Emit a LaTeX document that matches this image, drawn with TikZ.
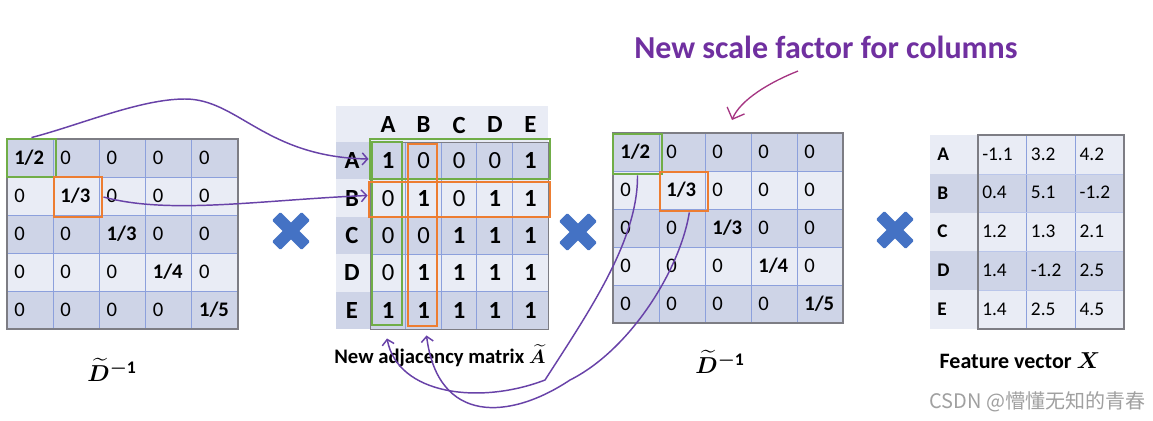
\documentclass[tikz,border=0pt]{standalone}
\usepackage{fontspec}
\setmainfont{Carlito}
\newfontfamily\wmfont{Noto Sans CJK SC}
\usepackage{amsmath,amssymb,bm}
\usetikzlibrary{arrows.meta,fit}
\definecolor{rowdark}{RGB}{206,212,231}
\definecolor{rowlight}{RGB}{233,236,245}
\definecolor{gridblue}{RGB}{140,160,220}
\definecolor{framegray}{RGB}{125,125,132}
\definecolor{hlgreen}{RGB}{112,173,71}
\definecolor{hlorange}{RGB}{237,125,49}
\definecolor{linkpurple}{RGB}{104,66,168}
\definecolor{titlepurple}{RGB}{112,48,160}
\definecolor{pinkline}{RGB}{165,53,130}
\definecolor{crossblue}{RGB}{68,114,196}
\definecolor{wmgray}{RGB}{160,160,160}

\begin{document}
\begin{tikzpicture}[x=0.75pt,y=-0.75pt,
  cellL/.style={anchor=west,inner sep=0pt,font=\fontsize{15.5}{17}\selectfont},
  cellM/.style={inner sep=0pt,font=\fontsize{18.5}{20}\selectfont},
  cellX/.style={anchor=west,inner sep=0pt,font=\fontsize{14.5}{16}\selectfont},
  hlbox/.style={draw=#1,line width=2.2pt,inner sep=0pt},
  link/.style={draw=linkpurple,line width=1.1pt,-{Straight Barb[length=4pt,width=9pt]}},
  caption/.style={font=\bfseries\fontsize{15.5}{18}\selectfont}]
  \fill[white] (0,0) rectangle (1153,421);
  \useasboundingbox (0,0) rectangle (1153,421);

  % left D^-1
  \foreach \r/\sh in {1/rowdark,2/rowlight,3/rowdark,4/rowlight,5/rowdark}
    \fill[\sh] (7,{139+(\r-1)*38}) rectangle (238,{139+\r*38});
  \foreach \i in {1,...,4} {
    \draw[gridblue,line width=0.5pt] ({7+\i*46.2},139) -- ({7+\i*46.2},329);
    \draw[gridblue,line width=0.5pt] (7,{139+\i*38}) -- (238,{139+\i*38});
  }
  \draw[framegray,line width=0.8pt] (7,139) rectangle (238,329);
  \foreach \r/\den in {1/2,2/3,3/3,4/4,5/5}
    \foreach \c in {1,...,5}
      \node[cellL] (dl-\r-\c) at ({14+(\c-1)*46.2},{158+(\r-1)*38})
        {\ifnum\r=\c \textbf{1/\den}\else 0\fi};
  \node[hlbox=hlgreen,fit={(7,139)(56,177)}] (dl-g) {};
  \node[hlbox=hlorange,fit={(54,177)(102,217)}] (dl-o) {};
  \node[font=\fontsize{19}{22}\selectfont] (dl-cap) at (112,370)
    {$\widetilde{\bm{D}}^{\bm{-}\mathbf{1}}$};

  % adjacency matrix
  \fill[rowlight] (336,106) rectangle (548,142);
  \foreach \r/\sh in {1/rowdark,2/rowlight,3/rowdark,4/rowlight,5/rowdark}
    \fill[\sh] (336,{142+(\r-1)*37.4}) rectangle (548,{142+\r*37.4});
  \foreach \i in {1,...,4} {
    \draw[gridblue,line width=0.5pt] ({370+\i*35.6},142) -- ({370+\i*35.6},329);
    \draw[gridblue,line width=0.5pt] (370,{142+\i*37.4}) -- (548,{142+\i*37.4});
  }
  \draw[framegray,line width=0.6pt] (370,142) rectangle (548,329);
  \foreach \c/\lab in {1/A,2/B,3/C,4/D,5/E} {
    \node[cellM,font=\bfseries\fontsize{18.5}{20}\selectfont] (ma-h\c) at ({388+(\c-1)*35.6},125) {\lab};
    \node[cellM,font=\bfseries\fontsize{18.5}{20}\selectfont] (ma-r\c) at (352,{160.7+(\c-1)*37.4}) {\lab};
  }
  \foreach \r/\row in {1/{1,0,0,0,1},2/{0,1,0,1,1},3/{0,0,1,1,1},4/{0,1,1,1,1},5/{1,1,1,1,1}}
    \foreach \v [count=\c] in \row
      \node[cellM] (ma-\r-\c) at ({388+(\c-1)*35.6},{160.7+(\r-1)*37.4})
        {\ifnum\v=1 \textbf{1}\else 0\fi};
  \node[hlbox=hlgreen,fit={(370,139)(550,179)}] (ma-grow) {};
  \node[hlbox=hlgreen,fit={(372,142)(402,325)}] (ma-gcol) {};
  \node[hlbox=hlorange,fit={(369,182)(550,217)}] (ma-orow) {};
  \node[hlbox=hlorange,fit={(408,144)(437,326)}] (ma-ocol) {};
  \node[caption] (ma-cap) at (440,356) {New adjacency matrix $\widetilde{\bm{A}}$};

  % right D^-1
  \foreach \r/\sh in {1/rowdark,2/rowlight,3/rowdark,4/rowlight,5/rowdark}
    \fill[\sh] (613,{133+(\r-1)*38}) rectangle (843,{133+\r*38});
  \foreach \i in {1,...,4} {
    \draw[gridblue,line width=0.5pt] ({613+\i*46},133) -- ({613+\i*46},323);
    \draw[gridblue,line width=0.5pt] (613,{133+\i*38}) -- (843,{133+\i*38});
  }
  \draw[framegray,line width=0.8pt] (613,133) rectangle (843,323);
  \foreach \r/\den in {1/2,2/3,3/3,4/4,5/5}
    \foreach \c in {1,...,5}
      \node[cellL] (dr-\r-\c) at ({620+(\c-1)*46},{152+(\r-1)*38})
        {\ifnum\r=\c \textbf{1/\den}\else 0\fi};
  \node[hlbox=hlgreen,fit={(613,134)(662,174)}] (dr-g) {};
  \node[hlbox=hlorange,fit={(660,172)(708,211)}] (dr-o) {};
  \node[font=\fontsize{19}{22}\selectfont] (dr-cap) at (720,362)
    {$\widetilde{\bm{D}}^{\bm{-}\mathbf{1}}$};

  % feature matrix
  \foreach \r/\sh in {1/rowlight,2/rowdark,3/rowlight,4/rowdark,5/rowlight}
    \fill[\sh] (930,{135+(\r-1)*38.8}) rectangle (1124,{135+\r*38.8});
  \foreach \i in {1,2}
    \draw[gridblue,line width=0.5pt] ({978+\i*48.7},135) -- ({978+\i*48.7},329);
  \foreach \i in {1,...,4}
    \draw[gridblue!60,line width=0.4pt] (978,{135+\i*38.8}) -- (1124,{135+\i*38.8});
  \draw[framegray,line width=0.8pt] (978,135) rectangle (1124,329);
  \foreach \r/\lab/\row in {1/A/{-1.1,3.2,4.2},2/B/{0.4,5.1,-1.2},3/C/{1.2,1.3,2.1},
                            4/D/{1.4,-1.2,2.5},5/E/{1.4,2.5,4.5}} {
    \node[cellX,font=\bfseries\fontsize{14.5}{16}\selectfont] (fx-\lab) at (937,{154+(\r-1)*38.8}) {\lab};
    \foreach \v [count=\c] in \row
      \node[cellX] (fx-\r-\c) at ({982+(\c-1)*48.7},{154+(\r-1)*38.8}) {\v};
  }
  \node[caption,font=\bfseries\fontsize{16.5}{19}\selectfont] (fx-cap) at (1020,361) {Feature vector $\bm{X}$};

  % multiplication signs
  \foreach \cx/\cy in {291/231,578/232,895/230} {
    \fill[crossblue,rounded corners=1pt,rotate around={45:(\cx,\cy)}]
      ({\cx-21},{\cy-6}) rectangle ({\cx+21},{\cy+6});
    \fill[crossblue,rounded corners=1pt,rotate around={-45:(\cx,\cy)}]
      ({\cx-21},{\cy-6}) rectangle ({\cx+21},{\cy+6});
  }

  % title and its arrow
  \node[font=\bfseries\fontsize{24}{28}\selectfont,text=titlepurple] (title) at (826,47) {New scale factor for columns};
  \coordinate (sf-to) at (732,120);
  \draw[pinkline,line width=1pt,-{Straight Barb[length=7pt,width=14pt]}]
    ([xshift=-21pt,yshift=-6pt]title.south) .. controls (770,82) and (740,100) .. (sf-to);

  % links
  \draw[link] (dl-g.north) .. controls (80,125) and (140,99) .. (185,99)
    .. controls (238,99) and (265,157) .. (ma-grow.west);
  \draw[link] (dl-o.east) .. controls (170,215) and (260,200) .. ([yshift=3pt]ma-orow.west);
  \draw[link] (dr-g.south) .. controls (638,240) and (590,310) .. (545,380)
    .. controls (480,405) and (398,395) .. ([yshift=-9pt]ma-gcol.south);
  \draw[link] ([xshift=4pt]dr-o.south) .. controls (680,270) and (630,350) .. (570,380)
    .. controls (510,420) and (438,425) .. ([xshift=3pt,yshift=-6pt]ma-ocol.south);

  \node[font=\wmfont\fontsize{15}{18}\selectfont,text=wmgray,anchor=west] (wm) at (925,402) {CSDN @懵懂无知的青春};
\end{tikzpicture}
\end{document}
